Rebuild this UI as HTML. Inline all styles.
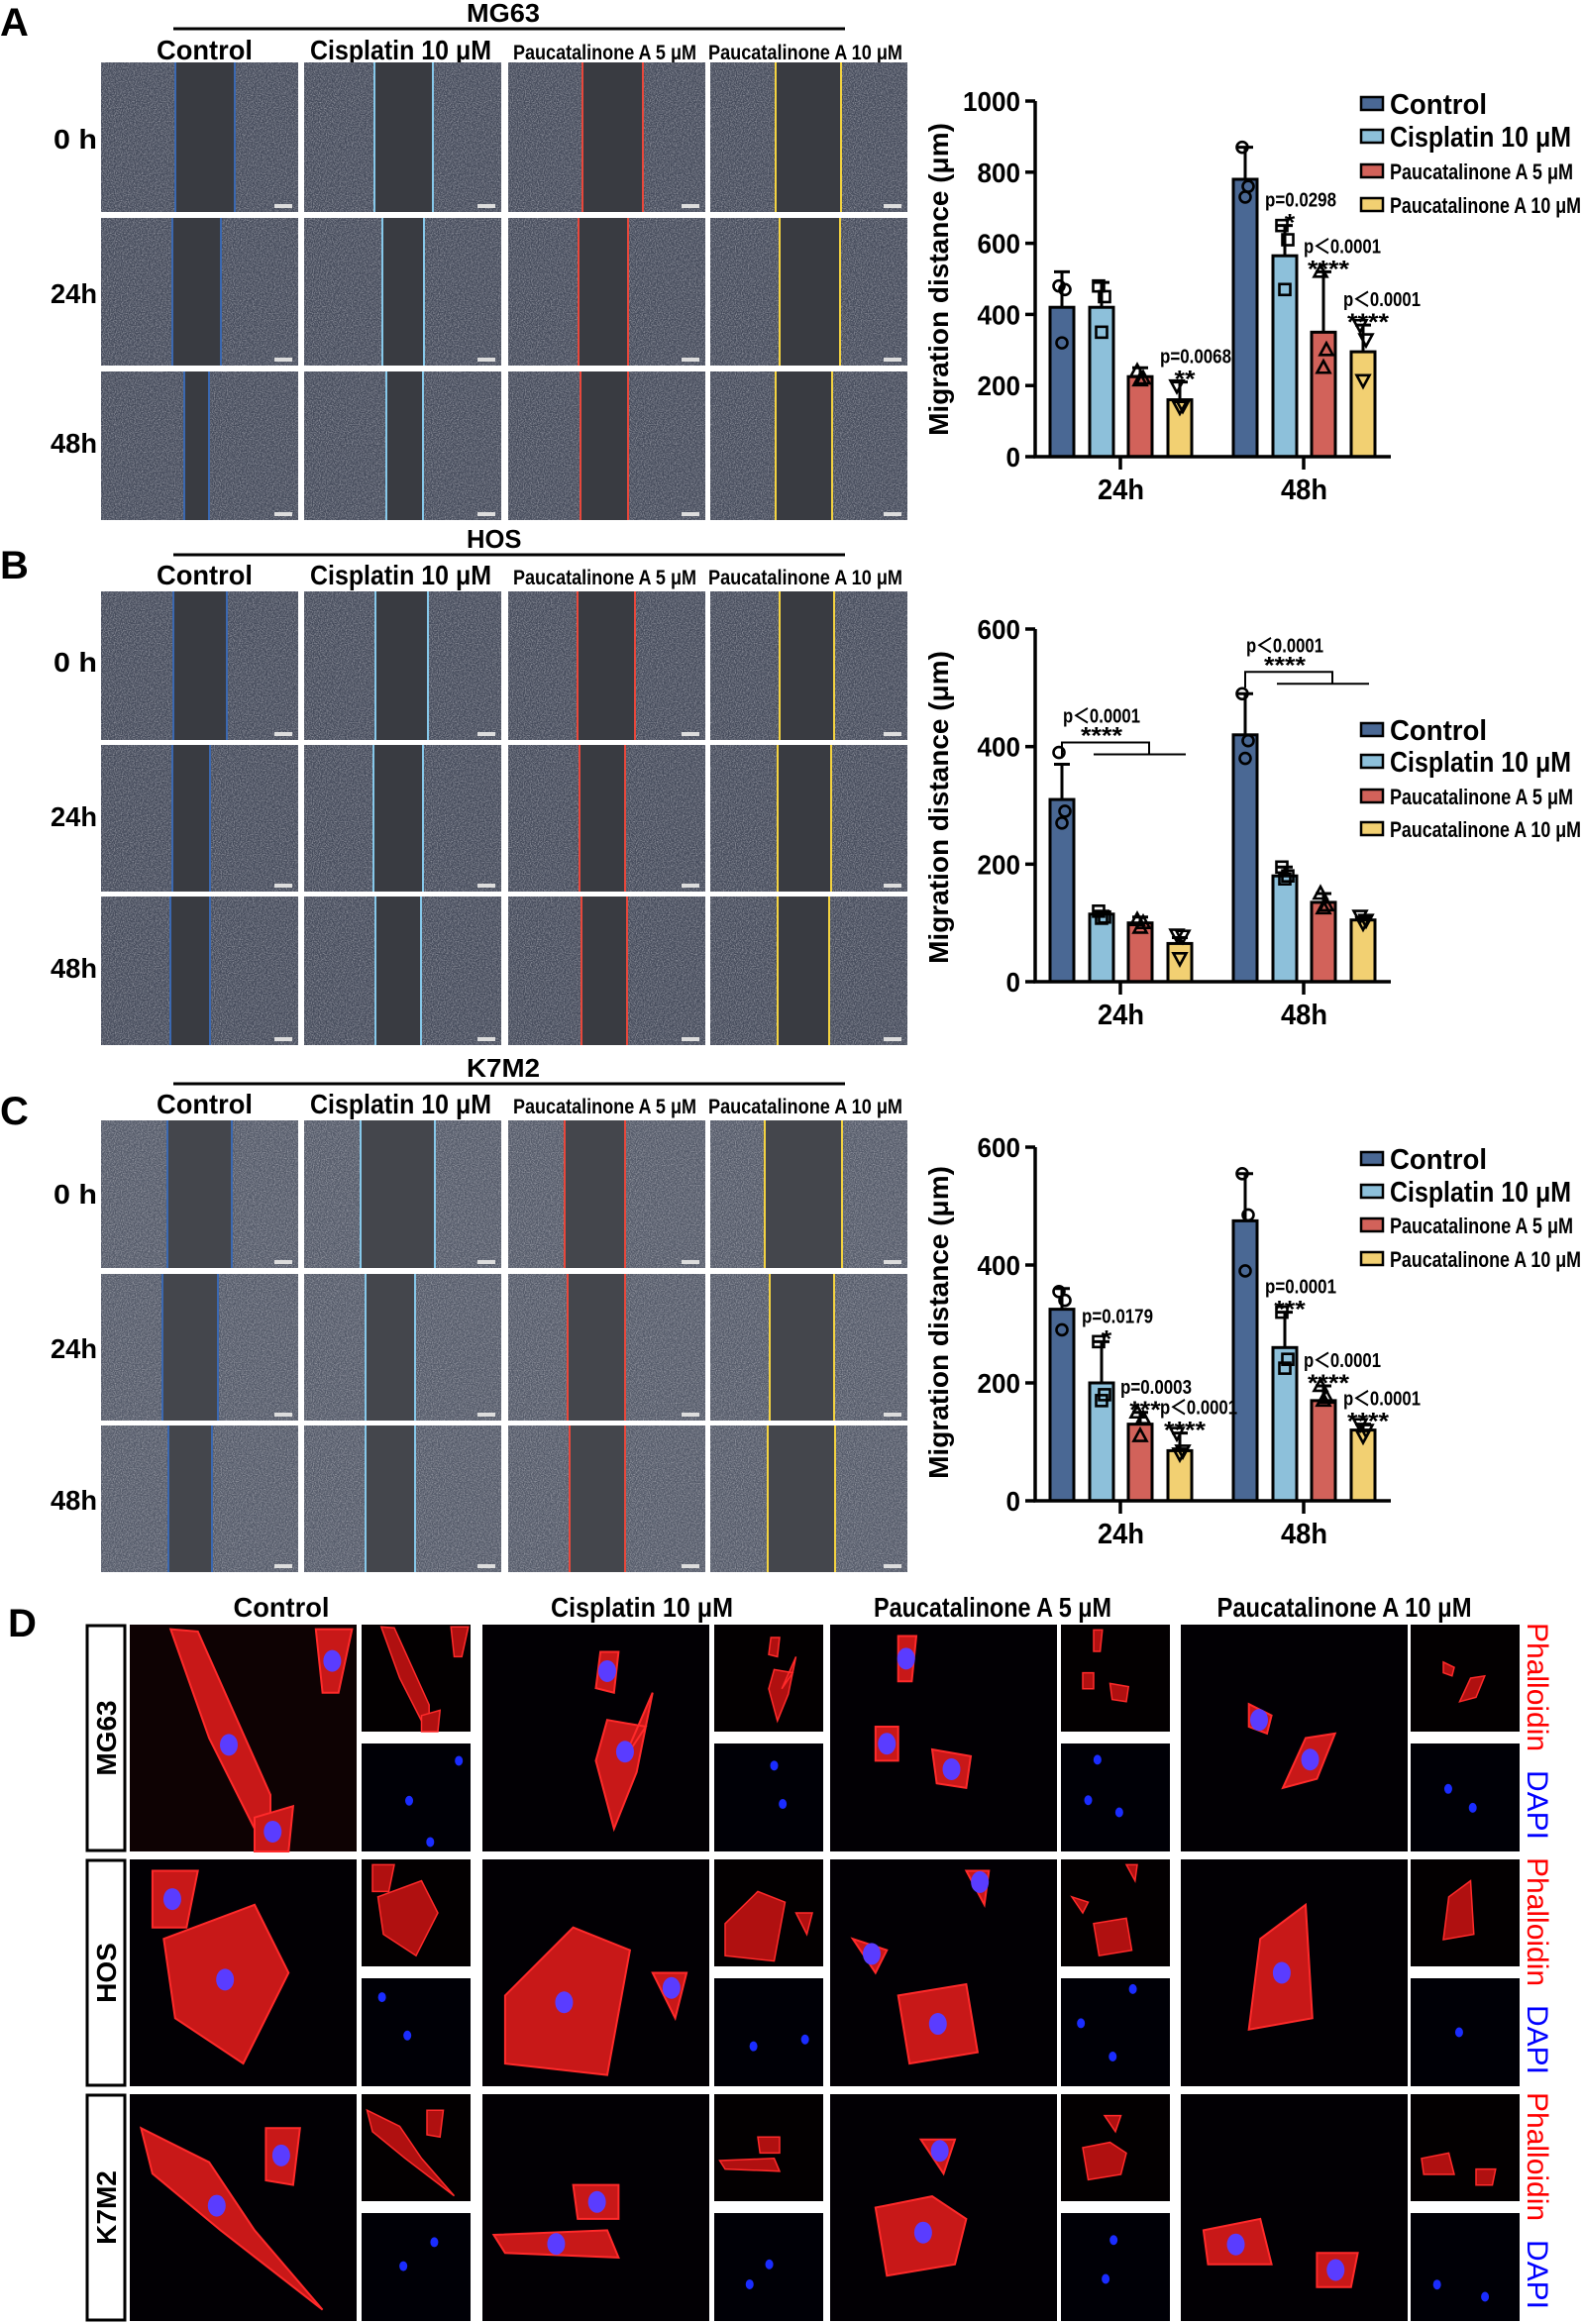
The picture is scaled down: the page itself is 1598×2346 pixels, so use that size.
<!DOCTYPE html>
<html><head><meta charset="utf-8">
<style>
html,body{margin:0;padding:0;background:#fff;}
svg{display:block;}
text{font-family:"Liberation Sans Narrow","Liberation Sans",sans-serif;font-weight:bold;fill:#000;}
.reg{font-family:"Liberation Sans",sans-serif;font-weight:normal;}
</style></head>
<body>
<svg id="fig" xmlns="http://www.w3.org/2000/svg" width="1598" height="2346" viewBox="0 0 1598 2346">
<defs>
<filter id="noise" x="0" y="0" width="100%" height="100%">
<feTurbulence type="fractalNoise" baseFrequency="0.85" numOctaves="2" seed="3"/>
<feColorMatrix type="matrix" values="0 0 0 0 0.62  0 0 0 0 0.62  0 0 0 0 0.66  2.2 0 0 0 -0.85"/>
</filter>
</defs>
<g id="root"></g>
</svg>
<script>
// ===== chart data =====
const groups = ["24h","48h"];
const series = ["Control","Cisplatin 10 μM","Paucatalinone A 5 μM","Paucatalinone A 10 μM"];
// Chart A (MG63)
const aMeans = [[420,420,225,160],[780,565,350,295]];
const aErr = [[520,490,250,210],[870,650,520,370]];
const aPts = [[[480,470,320],[480,450,350],[240,220,215],[200,145,140]],[[870,760,730],[650,610,470],[520,300,250],[370,330,215]]];
const aTicks = [0,200,400,600,800,1000];
// Chart B (HOS)
const bMeans = [[310,115,100,65],[420,180,135,105]];
const bErr = [[370,120,110,75],[490,195,150,110]];
const bPts = [[[390,290,270],[120,110,108],[105,100,92],[80,78,40]],[[490,410,380],[195,180,175],[150,130,125],[112,105,100]]];
const bTicks = [0,200,400,600];
// Chart C (K7M2)
const cMeans = [[325,200,130,85],[475,260,170,120]];
const cErr = [[360,270,150,115],[555,320,195,130]];
const cPts = [[[355,340,290],[270,180,170],[150,140,110],[115,85,80]],[[555,485,390],[320,240,225],[195,175,170],[130,120,110]]];
const cTicks = [0,200,400,600];
// significance annotations: [group, series, pText, stars]
const aSig = [[0,3,"p=0.0068","**"],[1,1,"p=0.0298","*"],[1,2,"p<0.0001","****"],[1,3,"p<0.0001","****"]];
const cSig = [[0,1,"p=0.0179","*"],[0,2,"p=0.0003","***"],[0,3,"p<0.0001","****"],[1,1,"p=0.0001","***"],[1,2,"p<0.0001","****"],[1,3,"p<0.0001","****"]];

const NS="http://www.w3.org/2000/svg";
const root=document.getElementById('root');
function el(tag,attrs,parent,txt){const e=document.createElementNS(NS,tag);for(const k in attrs)e.setAttribute(k,attrs[k]);if(txt!==undefined)e.textContent=txt;(parent||root).appendChild(e);return e;}
function fit(a,w){a.textLength=w;a.lengthAdjust='spacingAndGlyphs';return a;}

const barFill=["#4a6894","#8dc0da","#d2625a","#f2d072"];
const lineCol=["#3b68b0","#86c8ea","#e8473b","#f4d340"];

// ===== microscope scratch panels =====
const colX=[102,307,513,717], tileW=199;
const gapsA=[[[75,135],[71,130],[75,136],[66,132]],[[72,121],[79,121],[71,121],[70,131]],[[84,109],[83,120],[73,121],[66,123]]];
const gapsB=[[[73,127],[72,125],[70,128],[70,125]],[[72,110],[70,120],[72,118],[68,122]],[[70,110],[72,118],[74,120],[68,120]]];
const gapsC=[[[67,132],[57,132],[57,118],[55,133]],[[62,118],[62,112],[60,118],[60,125]],[[68,112],[62,112],[62,118],[58,126]]];
function scratchPanel(rows,gaps,name,light){
  const g=el('g',{});
  
  
  rows.forEach((r,ri)=>{colX.forEach((cx,ci)=>{
    const t=el('g',{},g);
    
    
    el('rect',{x:cx,y:r[0],width:tileW,height:r[1]-r[0],fill:light?'#535968':'#444a5a'},t);
    el('rect',{x:cx,y:r[0],width:tileW,height:r[1]-r[0],filter:'url(#noise)',opacity:0.6},t);
    const gp=gaps[ri][ci];
    el('rect',{x:cx+gp[0],y:r[0],width:gp[1]-gp[0],height:r[1]-r[0],fill:light?'#44464c':'#393b41'},t);
    el('line',{x1:cx+gp[0],y1:r[0],x2:cx+gp[0],y2:r[1],stroke:lineCol[ci],'stroke-width':2},t);
    el('line',{x1:cx+gp[1],y1:r[0],x2:cx+gp[1],y2:r[1],stroke:lineCol[ci],'stroke-width':2},t);
    el('rect',{x:cx+tileW-24,y:r[1]-8,width:18,height:4,fill:'#ddd'},t);
  });});
}
function header(letter,ly,title,ty,lineY,colY,rowLabels){
  const L=el('text',{x:0,y:ly,'font-size':40,'class':'reg','style':'font-weight:bold'},root,letter);
  
  
  const T=el('text',fit({x:471,y:ty,'font-size':26},title.length*18.5),root,title);
  
  
  const ln=el('line',{x1:175,y1:lineY,x2:853,y2:lineY,stroke:'#000','stroke-width':3});
  
  
  const cl=[[158,"Control",28,97],[313,"Cisplatin 10 μM",28,183],[518,"Paucatalinone A 5 μM",21,185],[715,"Paucatalinone A 10 μM",21,196]];
  cl.forEach(c=>{const t=el('text',fit({x:c[0],y:colY,'font-size':c[2]},c[3]),root,c[1]);
    
    });
  rowLabels.forEach(r=>{const t=el('text',fit({x:98-(r[1][1]===' '?44:47),y:r[0]+10,'font-size':28},r[1][1]===' '?44:47),root,r[1]);
    
    });
}
header("A",36,"MG63",22,29,60,[[140,"0 h"],[296,"24h"],[447,"48h"]]);
scratchPanel([[63,214],[220,369],[375,525]],gapsA,'mg63',false);
header("B",584,"HOS",553,560,590,[[668,"0 h"],[824,"24h"],[977,"48h"]]);
scratchPanel([[597,747],[752,900],[905,1055]],gapsB,'hos',false);
header("C",1135,"K7M2",1087,1094,1124,[[1205,"0 h"],[1361,"24h"],[1514,"48h"]]);
scratchPanel([[1131,1280],[1286,1434],[1439,1587]],gapsC,'k7m2',true);

// ===== bar charts =====
const axisX=1045, axisEnd=1404, groupX=[1131,1316], offs=[-59,-19,20,60], bw=24;
const markers=["circle","square","tri","itri"];
function drawMarker(g,type,x,y){
  const a={fill:'none',stroke:'#000','stroke-width':2.6};
  let m;
  if(type==="circle") m=el('circle',Object.assign({cx:x,cy:y,r:5.5},a),g);
  else if(type==="square") m=el('rect',Object.assign({x:x-5.5,y:y-5.5,width:11,height:11},a),g);
  else if(type==="tri") m=el('polygon',Object.assign({points:`${x},${y-7} ${x-6.5},${y+5} ${x+6.5},${y+5}`},a),g);
  else m=el('polygon',Object.assign({points:`${x},${y+7} ${x-6.5},${y-5} ${x+6.5},${y-5}`},a),g);
  
  
}
function chart(name,y0,yTop,maxV,ticks,means,errs,pts,titleY,legY,sig){
  const g=el('g',{});
  
  
  const ys=v=>y0-(v/maxV)*(y0-yTop);
  means.forEach((grp,gi)=>grp.forEach((v,si)=>{
    const cx=groupX[gi]+offs[si];
    const b=el('rect',{x:cx-bw/2,y:ys(v),width:bw,height:y0-ys(v),fill:barFill[si],stroke:'#000','stroke-width':3},g);
    
    
    const e=el('path',{d:`M${cx},${ys(v)} V${ys(errs[gi][si])} M${cx-8},${ys(errs[gi][si])} H${cx+8}`,stroke:'#000','stroke-width':3,fill:'none'},g);
    
    
    pts[gi][si].forEach((p,pi)=>drawMarker(g,markers[si],cx+[-3,3,0][pi],ys(p)));
  }));
  const ax=el('path',{d:`M${axisX},${yTop} V${y0} H${axisEnd}`,stroke:'#000','stroke-width':3.5,fill:'none'},g);
  
  
  ticks.forEach(t=>{
    el('line',{x1:axisX-10,y1:ys(t),x2:axisX,y2:ys(t),stroke:'#000','stroke-width':3.5},g);
    const s=String(t), w=s.length*14.5;
    const tl=el('text',fit({x:axisX-15-w,y:ys(t)+10,'font-size':28},w),g,s);
    
    
  });
  groups.forEach((gname,gi)=>{
    el('line',{x1:groupX[gi],y1:y0,x2:groupX[gi],y2:y0+13,stroke:'#000','stroke-width':3.5},g);
    const xl=el('text',fit({x:groupX[gi]-23,y:y0+43,'font-size':29},47),g,gname);
    
    
  });
  const yt=el('text',{x:0,y:0,'font-size':28,'text-anchor':'middle','class':'reg',style:'font-weight:bold',transform:`translate(957,${titleY}) rotate(-90)`},g,"Migration distance (μm)");
  
  
  const legW=[98,183,185,193];
  series.forEach((s,si)=>{
    const ly=legY[si];
    const lg=el('g',{},g);
    
    
    el('rect',{x:1374,y:ly-7,width:22,height:13,fill:barFill[si],stroke:'#000','stroke-width':2.5},lg);
    const big=si<2;
    el('text',fit({x:1403,y:ly+(big?10:8),'font-size':big?29:22},legW[si]),lg,s);
  });
  if(sig) sig.forEach(sg=>{
    const cx=groupX[sg[0]]+offs[sg[1]], top=ys(errs[sg[0]][sg[1]]);
    const t1=el('text',fit({x:cx-20,y:top-19,'font-size':20},sg[2][1]==='<'?78:72),g,sg[2].replace('<','＜'));
    
    
    const sw=sg[3].length*10.5;
    const t2=el('text',fit({x:cx-sw/2+5,y:top+5,'font-size':24},sw),g,sg[3]);
    
    
  });
  return ys;
}
chart('chart-mg63',461,102,1000,aTicks,aMeans,aErr,aPts,282,[105,138,173,207],aSig);
const ysB=chart('chart-hos',991,635,600,bTicks,bMeans,bErr,bPts,815,[737,769,804,837],null);
groups.forEach((gname,gi)=>{
  const cx=groupX[gi]+offs[0], top=ysB(bErr[gi][0]);
  const br=el('path',{d:`M${cx},${top-6} V${top-22} H${cx+88} V${top-10} M${cx+32},${top-10} H${cx+125}`,stroke:'#000','stroke-width':2,fill:'none'});
  
  
  const t1=el('text',fit({x:cx+1,y:top-42,'font-size':20},78),root,"p＜0.0001");
  
  
  const t2=el('text',fit({x:cx+19,y:top-21,'font-size':24},42),root,"****");
  
  
});
chart('chart-k7m2',1515,1158,600,cTicks,cMeans,cErr,cPts,1335,[1170,1203,1237,1271],cSig);

// ===== panel D: fluorescence =====
const DL=el('text',{x:8,y:1652,'font-size':40,'class':'reg',style:'font-weight:bold'},root,"D");


const dHeads=[[284,"Control",97],[648,"Cisplatin 10 μM",184],[1002,"Paucatalinone A 5 μM",240],[1357,"Paucatalinone A 10 μM",257]];
dHeads.forEach(h=>{const t=el('text',fit({x:h[0]-h[2]/2,y:1632,'font-size':28},h[2]),root,h[1]);
  
  });
const bigX=[131,487,838,1192], bigW=229, smX=[365,721,1071,1424], smW=110;
const rowY=[1640,1877,2114], rowH=229;
const rowNames=["MG63","HOS","K7M2"];
const cellShapes=[
 [[[0.18,0.02,0.3,0.03,0.62,0.75,0.62,0.98,0.55,0.9,0.35,0.5]],[[0.82,0.02,0.98,0.02,0.92,0.3,0.85,0.3]],[[0.55,0.85,0.72,0.8,0.7,1,0.55,1]]],
 [[[0.55,0.42,0.72,0.45,0.62,0.6,0.75,0.3,0.68,0.65,0.58,0.9,0.5,0.6]],[[0.52,0.12,0.6,0.12,0.58,0.3,0.5,0.28]]],
 [[[0.45,0.55,0.62,0.58,0.6,0.72,0.47,0.7]],[[0.3,0.05,0.38,0.05,0.36,0.25,0.3,0.25]],[[0.2,0.45,0.3,0.45,0.3,0.6,0.2,0.6]]],
 [[[0.3,0.35,0.4,0.4,0.38,0.48,0.3,0.45]],[[0.55,0.5,0.68,0.48,0.6,0.68,0.45,0.72]]]
];
const cellShapes2=[
 [[[0.15,0.35,0.55,0.2,0.7,0.5,0.5,0.9,0.2,0.7]],[[0.1,0.05,0.3,0.05,0.25,0.3,0.1,0.3]]],
 [[[0.1,0.6,0.4,0.3,0.65,0.4,0.55,0.95,0.1,0.9]],[[0.75,0.5,0.9,0.5,0.85,0.7]]],
 [[[0.3,0.6,0.6,0.55,0.65,0.85,0.35,0.9]],[[0.1,0.35,0.25,0.4,0.2,0.5]],[[0.6,0.05,0.7,0.05,0.68,0.2]]],
 [[[0.35,0.35,0.55,0.2,0.58,0.7,0.3,0.75]]]
];
const cellShapes3=[
 [[[0.05,0.15,0.35,0.3,0.55,0.6,0.85,0.95,0.4,0.6,0.1,0.35]],[[0.6,0.15,0.75,0.15,0.72,0.4,0.6,0.38]]],
 [[[0.05,0.62,0.55,0.6,0.6,0.72,0.1,0.7]],[[0.4,0.4,0.6,0.4,0.6,0.55,0.42,0.55]]],
 [[[0.2,0.5,0.45,0.45,0.6,0.55,0.55,0.75,0.25,0.8]],[[0.4,0.2,0.55,0.2,0.5,0.35]]],
 [[[0.1,0.6,0.35,0.55,0.4,0.75,0.12,0.75]],[[0.6,0.7,0.78,0.7,0.75,0.85,0.6,0.85]]]
];
const shapesByRow=[cellShapes,cellShapes2,cellShapes3];
rowY.forEach((ry,ri)=>{
  const box=el('g',{});
  
  
  el('rect',{x:88,y:ry+1,width:38,height:rowH-2,fill:'#fff',stroke:'#000','stroke-width':3},box);
  el('text',{x:0,y:0,'font-size':28,'text-anchor':'middle','class':'reg',style:'font-weight:bold',transform:`translate(117,${ry+rowH/2}) rotate(-90)`},box,rowNames[ri]);
  bigX.forEach((bx,ci)=>{
    const p=el('g',{});
    
    
    el('rect',{x:bx,y:ry,width:bigW,height:rowH,fill:ri===0&&ci===0?'#0e0203':'#020004'},p);
    shapesByRow[ri][ci].forEach(sh=>{
      const c=sh[0];let pts=[];
      for(let k=0;k<c.length;k+=2)pts.push((bx+c[k]*bigW).toFixed(1)+','+(ry+c[k+1]*rowH).toFixed(1));
      el('polygon',{points:pts.join(' '),fill:'#c81818',stroke:'#ff2a2a','stroke-width':2},p);
      let sx=0,sy=0,n=c.length/2;for(let k=0;k<c.length;k+=2){sx+=c[k];sy+=c[k+1];}
      el('ellipse',{cx:bx+sx/n*bigW,cy:ry+sy/n*rowH,rx:9,ry:11,fill:'#5a3cff'},p);
    });
    const s1=el('g',{});
    
    
    el('rect',{x:smX[ci],y:ry,width:smW,height:108,fill:'#030001'},s1);
    shapesByRow[ri][ci].forEach(sh=>{
      const c=sh[0];let pts=[];
      for(let k=0;k<c.length;k+=2)pts.push((smX[ci]+c[k]*smW).toFixed(1)+','+(ry+c[k+1]*108).toFixed(1));
      el('polygon',{points:pts.join(' '),fill:'#b01010',stroke:'#ff2a2a','stroke-width':1.5},s1);
    });
    const s2=el('g',{});
    
    
    el('rect',{x:smX[ci],y:ry+120,width:smW,height:rowH-120,fill:'#000006'},s2);
    shapesByRow[ri][ci].forEach(sh=>{
      const c=sh[0];let sx=0,sy=0,n=c.length/2;for(let k=0;k<c.length;k+=2){sx+=c[k];sy+=c[k+1];}
      el('ellipse',{cx:smX[ci]+sx/n*smW,cy:ry+120+sy/n*(rowH-120),rx:4,ry:5,fill:'#1a2cff'},s2);
    });
  });
  const ph=el('text',{x:0,y:0,'font-size':30,'class':'reg',style:'fill:#ff0000',transform:`translate(1542,${ry-2}) rotate(90)`},root,"Phalloidin");
  
  
  const dp=el('text',{x:0,y:0,'font-size':30,'class':'reg',style:'fill:#0000ff',transform:`translate(1542,${ry+147}) rotate(90)`},root,"DAPI");
  
  
});
</script>
</body></html>
